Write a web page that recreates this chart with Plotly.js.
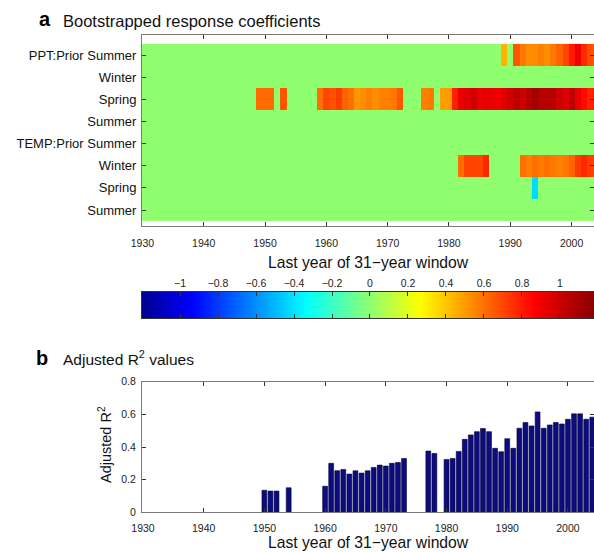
<!DOCTYPE html>
<html>
<head>
<meta charset="utf-8">
<script src="https://cdn.plot.ly/plotly-3.0.1.min.js"></script>
<style>
html,body{margin:0;padding:0;background:#fff;}
#chart{width:594px;height:552px;}
</style>
</head>
<body>
<div id="chart"></div>
<script>
// ---------- data ----------
const rowLabels = ['PPT:Prior Summer','Winter','Spring','Summer','TEMP:Prior Summer','Winter','Spring','Summer'];
const rowIds = [1,2,3,4,5,6,7,8];
const firstYear = 1930;
const lastYear = 2004;
const decadeTicks = [1930,1940,1950,1960,1970,1980,1990,2000];
const colorMin = -1.2;
const colorMax = 1.2;
const colorbarTicks = [-1,-0.8,-0.6,-0.4,-0.2,0,0.2,0.4,0.6,0.8,1];

// non-zero bootstrapped response coefficients (all other cells are 0)
const pptPriorSummerYears  = [1989,1991,1992,1993,1994,1995,1996,1997,1998,1999,2000,2001,2002,2003,2004];
const pptPriorSummerValues = [0.44,0.66,0.58,0.53,0.53,0.56,0.53,0.58,0.63,0.70,0.80,0.90,0.76,0.68,0.66];

const pptSpringYears  = [1949,1950,1951,1953,1959,1960,1961,1962,1963,1964,1965,1966,1967,1968,1969,1970,1971,1972,
                         1976,1977,1979,1980,1981,1982,1983,1984,1985,1986,1987,1988,1989,1990,1991,1992,1993,1994,
                         1995,1996,1997,1998,1999,2000,2001,2002,2003,2004];
const pptSpringValues = [0.61,0.61,0.61,0.66,0.60,0.70,0.67,0.72,0.63,0.60,0.51,0.53,0.56,0.53,0.56,0.56,0.58,0.66,
                         0.56,0.58,0.49,0.50,0.79,0.91,0.95,0.99,0.91,0.93,0.92,0.90,0.95,0.99,1.04,0.99,1.06,1.11,
                         1.06,1.05,1.06,0.99,0.95,1.04,0.92,0.84,0.78,0.80];

const tempWinterYears  = [1982,1983,1984,1985,1986,1992,1993,1994,1995,1996,1997,1998,1999,2000,2001,2002,2003,2004];
const tempWinterValues = [0.60,0.70,0.70,0.70,0.77,0.60,0.56,0.60,0.58,0.60,0.58,0.56,0.58,0.63,0.72,0.77,0.72,0.70];

const tempSpringYears  = [1994];
const tempSpringValues = [-0.42];

// adjusted R^2 values
const r2Years  = [1950,1951,1952,1954,1960,1961,1962,1963,1964,1965,1966,1967,1968,1969,1970,1971,1972,1973,
                  1977,1978,1980,1981,1982,1983,1984,1985,1986,1987,1988,1989,1990,1991,1992,1993,1994,1995,
                  1996,1997,1998,1999,2000,2001,2002,2003,2004];
const r2Values = [0.135,0.13,0.13,0.15,0.16,0.30,0.255,0.262,0.234,0.254,0.24,0.254,0.275,0.289,0.283,0.30,0.305,0.33,
                  0.375,0.36,0.324,0.33,0.373,0.447,0.474,0.494,0.513,0.494,0.392,0.371,0.451,0.392,0.515,0.55,0.529,0.615,
                  0.515,0.535,0.55,0.541,0.57,0.603,0.603,0.57,0.583];

// ---------- build coefficient matrix ----------
const nCols = lastYear - firstYear + 1;
const z = rowIds.map(() => new Array(nCols).fill(0));
function fillRow(rowIndex, years, values) {
  years.forEach((yr, i) => { z[rowIndex][yr - firstYear] = values[i]; });
}
fillRow(0, pptPriorSummerYears, pptPriorSummerValues);
fillRow(2, pptSpringYears, pptSpringValues);
fillRow(5, tempWinterYears, tempWinterValues);
fillRow(6, tempSpringYears, tempSpringValues);

// MATLAB-like jet colormap
const jet = [
  [0, 'rgb(0,0,143)'],
  [0.109, 'rgb(0,0,255)'],
  [0.359, 'rgb(0,255,255)'],
  [0.609, 'rgb(255,255,0)'],
  [0.859, 'rgb(255,0,0)'],
  [1, 'rgb(128,0,0)']
];

// ---------- layout helpers ----------
const W = 594, H = 552;
const fx = p => p / W;
const fy = p => 1 - p / H;
const FONT = 'Liberation Sans, Arial, Helvetica, sans-serif';

const traces = [
  {
    type: 'heatmap', z: z, x0: firstYear, dx: 1, y: rowIds,
    colorscale: jet, zmin: colorMin, zmax: colorMax, showscale: false,
    xaxis: 'x', yaxis: 'y', hoverinfo: 'skip'
  },
  {
    type: 'heatmap', x: [colorMin, colorMax], y: [0, 1],
    z: [[colorMin, colorMax],[colorMin, colorMax]], zsmooth: 'best',
    colorscale: jet, zmin: colorMin, zmax: colorMax, showscale: false,
    xaxis: 'x2', yaxis: 'y2', hoverinfo: 'skip'
  },
  {
    type: 'bar', x: r2Years, y: r2Values, width: 0.8,
    marker: {color: 'rgb(12,12,128)', line: {color: 'rgb(0,0,50)', width: 0.6}},
    xaxis: 'x3', yaxis: 'y3', hoverinfo: 'skip'
  }
];

const axCommon = {
  showline: true, linecolor: '#7a7a7a', linewidth: 1, mirror: 'ticks',
  ticks: 'inside', ticklen: 4, tickcolor: '#333', tickwidth: 1,
  showgrid: false, zeroline: false, fixedrange: true,
  tickfont: {family: FONT, size: 10.5, color: '#222'}
};

const layout = {
  width: W, height: H,
  margin: {l: 0, r: 0, t: 0, b: 0, pad: 0},
  paper_bgcolor: '#fff', plot_bgcolor: '#fff',
  showlegend: false,
  font: {family: FONT, color: '#222'},
  xaxis: Object.assign({}, axCommon, {
    domain: [fx(142), 1], range: [1929.93, 2003.66], anchor: 'y',
    tickmode: 'array', tickvals: decadeTicks, ticklabelstandoff: 7
  }),
  yaxis: Object.assign({}, axCommon, {
    domain: [fy(226), fy(35)], range: [8.72, 0.097], anchor: 'x',
    tickmode: 'array', tickvals: rowIds, ticktext: rowLabels,
    tickfont: {family: FONT, size: 13, color: '#111'}, ticklabelstandoff: 2
  }),
  xaxis2: Object.assign({}, axCommon, {
    domain: [fx(142), 1], range: [-1.2, 1.179], anchor: 'y2', side: 'top',
    tickmode: 'array', tickvals: colorbarTicks, linecolor: '#333'
  }),
  yaxis2: Object.assign({}, axCommon, {
    domain: [fy(318.3), fy(291.7)], range: [0, 1], anchor: 'x2',
    ticks: '', showticklabels: false, mirror: true, linecolor: '#333'
  }),
  xaxis3: Object.assign({}, axCommon, {
    domain: [fx(142), 1], range: [1929.84, 2004.29], anchor: 'y3',
    tickmode: 'array', tickvals: decadeTicks, ticklabelstandoff: 6
  }),
  yaxis3: Object.assign({}, axCommon, {
    domain: [fy(512.3), fy(381.7)], range: [0, 0.8], anchor: 'x3',
    tickmode: 'array', tickvals: [0, 0.2, 0.4, 0.6, 0.8], ticklabelstandoff: 3
  }),
  annotations: [
    {text: '<b>a</b>', x: fx(45), y: fy(19), xref: 'paper', yref: 'paper', showarrow: false,
     xanchor: 'center', yanchor: 'middle', font: {family: FONT, size: 20, color: '#000'}},
    {text: 'Bootstrapped response coefficients', x: fx(61), y: fy(21), xref: 'paper', yref: 'paper', showarrow: false,
     xanchor: 'left', yanchor: 'middle', font: {family: FONT, size: 16.5, color: '#111'}},
    {text: 'Last year of 31\u2212year window', x: fx(368), y: fy(262.5), xref: 'paper', yref: 'paper', showarrow: false,
     xanchor: 'center', yanchor: 'middle', font: {family: FONT, size: 15.7, color: '#111'}},
    {text: '<b>b</b>', x: fx(42.5), y: fy(358), xref: 'paper', yref: 'paper', showarrow: false,
     xanchor: 'center', yanchor: 'middle', font: {family: FONT, size: 20, color: '#000'}},
    {text: 'Adjusted R<sup>2</sup> values', x: fx(61), y: fy(358), xref: 'paper', yref: 'paper', showarrow: false,
     xanchor: 'left', yanchor: 'middle', font: {family: FONT, size: 15.5, color: '#111'}},
    {text: 'Adjusted R<sup>2</sup>', x: fx(105), y: fy(445), xref: 'paper', yref: 'paper', showarrow: false,
     textangle: -90, xanchor: 'center', yanchor: 'middle', font: {family: FONT, size: 14.5, color: '#111'}},
    {text: 'Last year of 31\u2212year window', x: fx(368), y: fy(542), xref: 'paper', yref: 'paper', showarrow: false,
     xanchor: 'center', yanchor: 'middle', font: {family: FONT, size: 15.7, color: '#111'}}
  ]
};

Plotly.newPlot('chart', traces, layout, {staticPlot: true, displayModeBar: false});
</script>
</body>
</html>
